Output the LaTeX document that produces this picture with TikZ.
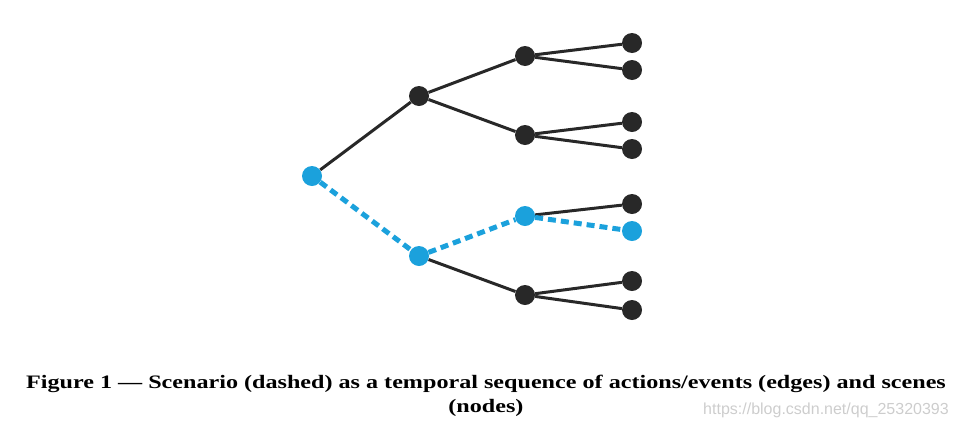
\documentclass[tikz,border=0pt]{standalone}
\usepackage{fontspec}
\setmainfont{Liberation Serif}
\setsansfont{Liberation Sans}
\usetikzlibrary{backgrounds}
\definecolor{scnblue}{RGB}{27,161,220}
\definecolor{scndark}{RGB}{40,40,40}
\definecolor{markgray}{RGB}{205,205,205}
\begin{document}
\begin{tikzpicture}[x=1pt,y=-1pt,
	scene/.style={circle,fill=scndark,inner sep=0pt,minimum size=20pt},
	picked/.style={scene,fill=scnblue},
	act/.style={scndark,line width=3pt},
	scenario/.style={scnblue,line width=5pt,dash pattern=on 8pt off 5pt}]
	\useasboundingbox (0,0) rectangle (957,429);
	% scenes
	\node[picked] (s0) at (312,176) {};
	\node[scene] (s1) at (419,96) {};
	\node[picked] (s2) at (419,256) {};
	\node[scene] (s11) at (525,56) {};
	\node[scene] (s12) at (525,135) {};
	\node[picked] (s21) at (525,216) {};
	\node[scene] (s22) at (525,295) {};
	\foreach \n/\y in {a/43,b/70,c/122,d/149,e/204,g/281,h/310}{
		\node[scene] (l\n) at (632,\y) {};
	}
	\node[picked] (lf) at (632,231) {};
	% actions / events
	\begin{scope}[on background layer]
		\draw[act] (s0)--(s1);
		\foreach \p/\c in {s1/s11,s1/s12,s11/la,s11/lb,s12/lc,s12/ld,s21/le,s2/s22,s22/lg,s22/lh}{
			\draw[act] (\p)--(\c);
		}
		\draw[scenario] (s0)--(s2)--(s21)--(lf);
	\end{scope}
	\node[font=\bfseries\fontsize{19}{24}\selectfont,align=center,xscale=1.27] (cap) at (486,396)
		{Figure 1 — Scenario (dashed) as a temporal sequence of actions/events (edges) and scenes\\(nodes)};
	\node[font=\sffamily\fontsize{16}{18}\selectfont,text=markgray] (mark) at (826,410) {https://blog.csdn.net/qq\_25320393};
\end{tikzpicture}
\end{document}
